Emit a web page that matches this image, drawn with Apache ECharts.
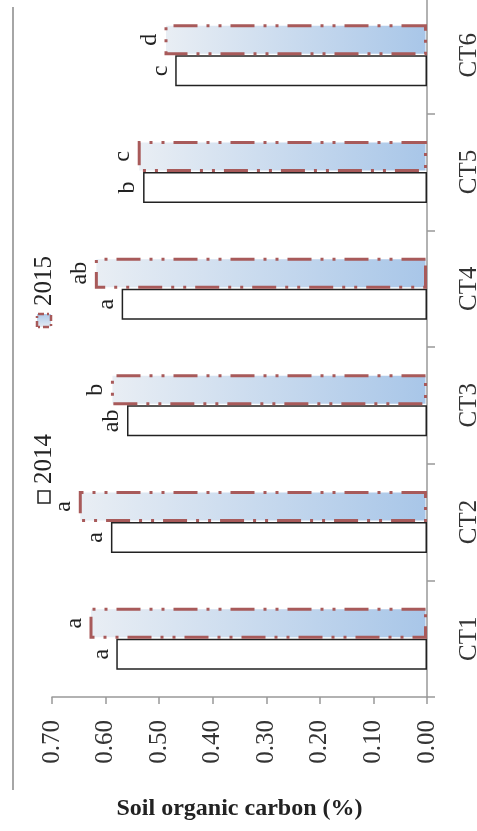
<!DOCTYPE html>
<html>
<head>
<meta charset="utf-8">
<script src="https://cdn.jsdelivr.net/npm/echarts@6/dist/echarts.min.js"></script>
<style>
html,body{margin:0;padding:0;background:#fff;}
#chart{width:477px;height:831px;}
</style>
</head>
<body>
<div id="chart"></div>
<script>
const categories = ['CT1', 'CT2', 'CT3', 'CT4', 'CT5', 'CT6'];
const values2014 = [0.58, 0.59, 0.56, 0.57, 0.53, 0.47];
const values2015 = [0.63, 0.65, 0.59, 0.62, 0.54, 0.49];
const letters2014 = ['a', 'a', 'ab', 'a', 'b', 'c'];
const letters2015 = ['a', 'a', 'b', 'ab', 'c', 'd'];
const valueTicks = [0, 0.1, 0.2, 0.3, 0.4, 0.5, 0.6, 0.7];

const FONT = '"Liberation Serif", "Times New Roman", serif';
const BROWN = '#a85a5a';
const DASH = [24, 9, 3, 9, 3, 9];

function blueGrad() {
  return new echarts.graphic.LinearGradient(0, 0, 1, 0, [
    { offset: 0, color: '#e9eef4' },
    { offset: 1, color: '#a8c6e8' }
  ]);
}

const chart = echarts.init(document.getElementById('chart'), null, { renderer: 'canvas' });

function letterLabel(arr) {
  return {
    show: true,
    position: 'outside',
    distance: 3,
    rotate: 90,
    align: 'center',
    verticalAlign: 'bottom',
    fontFamily: FONT,
    fontSize: 24,
    color: '#222',
    formatter: p => arr[p.dataIndex]
  };
}

chart.setOption({
  animation: false,
  grid: { left: 52, right: 50, top: -3, bottom: 134, outerBoundsMode: 'none', containLabel: false },
  xAxis: {
    type: 'value',
    inverse: true,
    min: valueTicks[0],
    max: valueTicks[valueTicks.length - 1],
    interval: 0.1,
    position: 'bottom',
    name: 'Soil organic carbon (%)',
    nameLocation: 'middle',
    nameGap: 100,
    nameTextStyle: { fontFamily: FONT, fontWeight: 'bold', fontSize: 24, color: '#222' },
    axisLine: { show: true, lineStyle: { color: '#999', width: 1.5 } },
    axisTick: { show: true, length: 7, inside: false, lineStyle: { color: '#999', width: 1.5 } },
    splitLine: { show: false },
    axisLabel: {
      rotate: 90,
      margin: 23,
      fontFamily: FONT,
      fontSize: 25,
      color: '#333',
      formatter: v => v.toFixed(2)
    }
  },
  yAxis: {
    type: 'category',
    data: categories,
    position: 'right',
    axisLine: { show: true, lineStyle: { color: '#999', width: 1.5 } },
    axisTick: { show: true, length: 8, inside: false, lineStyle: { color: '#999', width: 1.5 } },
    axisLabel: {
      interval: 0,
      rotate: 90,
      margin: 30,
      fontFamily: FONT,
      fontSize: 25,
      color: '#333'
    }
  },
  series: [
    {
      name: '2015',
      type: 'bar',
      data: values2015,
      barWidth: 31,
      barGap: '0%',
      itemStyle: {
        color: blueGrad(),
        borderColor: BROWN,
        borderWidth: 3,
        borderType: DASH
      },
      label: letterLabel(letters2015),
      z: 3
    },
    {
      name: '2014',
      type: 'bar',
      data: values2014,
      barWidth: 31,
      barGap: '0%',
      itemStyle: {
        color: '#ffffff',
        borderColor: '#222',
        borderWidth: 1.5
      },
      label: letterLabel(letters2014),
      z: 2
    }
  ],
  graphic: [
    {
      type: 'line',
      shape: { x1: 13, y1: 7, x2: 13, y2: 790 },
      style: { stroke: '#888', lineWidth: 1.5 },
      silent: true
    },
    {
      type: 'group',
      x: 38, y: 503,
      rotation: Math.PI / 2,
      children: [
        { type: 'rect', shape: { x: 0, y: 0, width: 12, height: 12 }, style: { fill: '#fff', stroke: '#222', lineWidth: 1.5 } },
        { type: 'text', x: 19, y: 6, style: { text: '2014', fontFamily: FONT, fontSize: 25, fill: '#222', verticalAlign: 'middle', align: 'left' } }
      ]
    },
    {
      type: 'group',
      x: 37, y: 327,
      rotation: Math.PI / 2,
      children: [
        { type: 'rect', shape: { x: 0, y: 0, width: 13, height: 14 }, style: { fill: blueGrad(), stroke: BROWN, lineWidth: 2.5, lineDash: [6, 3, 2, 3] } },
        { type: 'text', x: 21, y: 7, style: { text: '2015', fontFamily: FONT, fontSize: 25, fill: '#222', verticalAlign: 'middle', align: 'left' } }
      ]
    }
  ]
});
</script>
</body>
</html>
